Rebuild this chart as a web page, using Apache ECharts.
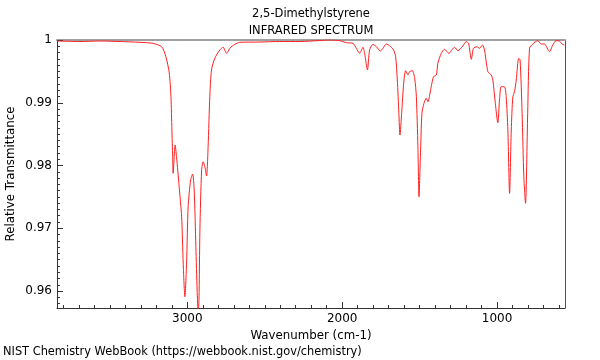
<!DOCTYPE html>
<html><head><meta charset="utf-8">
<script src="https://cdn.jsdelivr.net/npm/echarts@6/dist/echarts.min.js"></script>
<style>html,body{margin:0;padding:0;background:#fff}#c{width:600px;height:360px}</style>
</head><body><div id="c"></div>
<script>
const wavenumbers = [3842,3694,3565,3435,3306,3223,3166,3139,3117,3106,3100,3095,3092,3079,3070,3053,3037,3027,3016,3005,2995,2979,2966,2956,2945,2937,2930,2925,2919,2908,2898,2887,2876,2866,2855,2844,2823,2790,2769,2747,2726,2694,2661,2532,2403,2274,2145,2081,2016,1973,1930,1909,1887,1866,1855,1837,1823,1801,1779,1754,1737,1715,1694,1668,1655,1644,1634,1627,1616,1603,1590,1575,1565,1547,1532,1521,1511,1504,1495,1485,1472,1457,1446,1435,1425,1410,1392,1382,1360,1339,1311,1289,1274,1253,1221,1199,1184,1166,1152,1130,1113,1095,1081,1059,1037,1027,1011,995,984,973,952,941,930,919,908,898,887,876,860,851,838,827,816,802,790,769,737,715,694,661,640,618,597,580,565];
const transmittance = [0.99984,0.99976,0.99984,0.99976,0.99963,0.99947,0.99893,0.99734,0.99474,0.99096,0.98566,0.98140,0.97876,0.98327,0.98140,0.97662,0.97184,0.96446,0.95909,0.96446,0.97343,0.97769,0.97865,0.97610,0.96706,0.96016,0.95665,0.95857,0.96972,0.97928,0.98061,0.97981,0.97833,0.98300,0.99096,0.99522,0.99708,0.99841,0.99884,0.99788,0.99868,0.99931,0.99963,0.99968,0.99976,0.99976,0.99992,1.0,0.99989,0.99957,0.99947,0.99868,0.99788,0.99884,0.99788,0.99522,0.99841,0.99931,0.99893,0.99825,0.99868,0.99936,0.99909,0.99841,0.99734,0.99363,0.98832,0.98486,0.98832,0.99310,0.99511,0.99442,0.99495,0.99511,0.99390,0.99096,0.98300,0.97503,0.98140,0.98832,0.98991,0.99071,0.99017,0.99124,0.99256,0.99415,0.99442,0.99629,0.99788,0.99852,0.99788,0.99852,0.99884,0.99829,0.99904,0.99973,0.99947,0.99692,0.99868,0.99893,0.99868,0.99920,0.99841,0.99495,0.99442,0.99363,0.98991,0.98682,0.99044,0.99256,0.99256,0.99096,0.98566,0.97557,0.98566,0.99096,0.99176,0.99363,0.99708,0.99681,0.98832,0.97822,0.97398,0.98832,0.99870,0.99936,0.99989,0.99936,0.99936,0.99814,0.99920,0.99989,0.99984,0.99936,0.99920];
const xMajorTicks = [1000,2000,3000];
const xMinorTicks = [600,700,800,900,1000,1100,1200,1300,1400,1500,1600,1700,1800,1900,2000,2100,2200,2300,2400,2500,2600,2700,2800,2900,3000,3100,3200,3300,3400,3500,3600,3700,3800];
const yMajorTicks = [0.96,0.97,0.98,0.99,1.0];
const yMinorTicks = [0.958,0.959,0.960,0.961,0.962,0.963,0.964,0.965,0.966,0.967,0.968,0.969,0.970,0.971,0.972,0.973,0.974,0.975,0.976,0.977,0.978,0.979,0.980,0.981,0.982,0.983,0.984,0.985,0.986,0.987,0.988,0.989,0.990,0.991,0.992,0.993,0.994,0.995,0.996,0.997,0.998,0.999,1.0];
const X_MIN = 561, X_MAX = 3842, Y_MIN = 0.9573, Y_MAX = 1.0;
const FONT = 'DejaVu Sans';

const chart = echarts.init(document.getElementById('c'), null, {renderer: 'canvas'});
const base = {type: 'value', min: X_MIN, max: X_MAX, inverse: true, splitLine: {show: false}};
const ybase = {type: 'value', min: Y_MIN, max: Y_MAX, splitLine: {show: false}};
chart.setOption({
  animation: false,
  backgroundColor: '#fff',
  title: [
    {text: '2,5-Dimethylstyrene\nINFRARED SPECTRUM', left: 311, top: 0, padding: [6, 0, 0, 0], textAlign: 'center',
     textStyle: {fontFamily: FONT, fontSize: 11.5, fontWeight: 'normal', color: '#000', lineHeight: 17}},
    {text: 'NIST Chemistry WebBook (https://webbook.nist.gov/chemistry)', left: 3, top: 347, padding: 0,
     textStyle: {fontFamily: FONT, fontSize: 11.4, fontWeight: 'normal', color: '#000'}}
  ],
  grid: {left: 57, right: 35, top: 40, bottom: 52, containLabel: false, outerBoundsMode: 'none'},
  xAxis: [
    Object.assign({}, base, {position: 'bottom', name: 'Wavenumber (cm-1)', nameLocation: 'middle', nameGap: 15,
      nameTextStyle: {fontFamily: FONT, fontSize: 11.8, color: '#000'},
      axisLine: {show: true, lineStyle: {color: '#333', width: 1}},
      axisTick: {show: true, inside: true, length: 6, customValues: xMajorTicks, lineStyle: {color: '#333'}},
      axisLabel: {show: true, customValues: xMajorTicks, margin: 5, fontFamily: FONT, fontSize: 12, color: '#000',
        formatter: v => String(Math.round(v))}}),
    Object.assign({}, base, {position: 'top',
      axisLine: {show: true, lineStyle: {color: '#a0a0a0', width: 2}},
      axisTick: {show: false}, axisLabel: {show: false}}),
    Object.assign({}, base, {position: 'bottom',
      axisLine: {show: false},
      axisTick: {show: true, inside: true, length: 3, customValues: xMinorTicks, lineStyle: {color: '#333'}},
      axisLabel: {show: false}})
  ],
  yAxis: [
    Object.assign({}, ybase, {position: 'left', name: 'Relative Transmittance', nameLocation: 'middle', nameGap: 40,
      nameMoveOverlap: false,
      nameTextStyle: {fontFamily: FONT, fontSize: 11.8, color: '#000'},
      axisLine: {show: true, lineStyle: {color: '#333', width: 1}},
      axisTick: {show: true, inside: true, length: 6, customValues: yMajorTicks, lineStyle: {color: '#333'}},
      axisLabel: {show: true, customValues: yMajorTicks, margin: 5, fontFamily: FONT, fontSize: 12, color: '#000',
        formatter: v => String(+(+v).toFixed(3))}}),
    Object.assign({}, ybase, {position: 'right',
      axisLine: {show: true, lineStyle: {color: '#555', width: 1}},
      axisTick: {show: false}, axisLabel: {show: false}}),
    Object.assign({}, ybase, {position: 'left',
      axisLine: {show: false},
      axisTick: {show: true, inside: true, length: 3, customValues: yMinorTicks, lineStyle: {color: '#333'}},
      axisLabel: {show: false}})
  ],
  series: [{
    type: 'line', xAxisIndex: 0, yAxisIndex: 0, showSymbol: false, smooth: 0.25, clip: true,
    lineStyle: {color: '#ff2020', width: 1},
    data: wavenumbers.map((w, i) => [w, transmittance[i]])
  }]
});
</script></body></html>
